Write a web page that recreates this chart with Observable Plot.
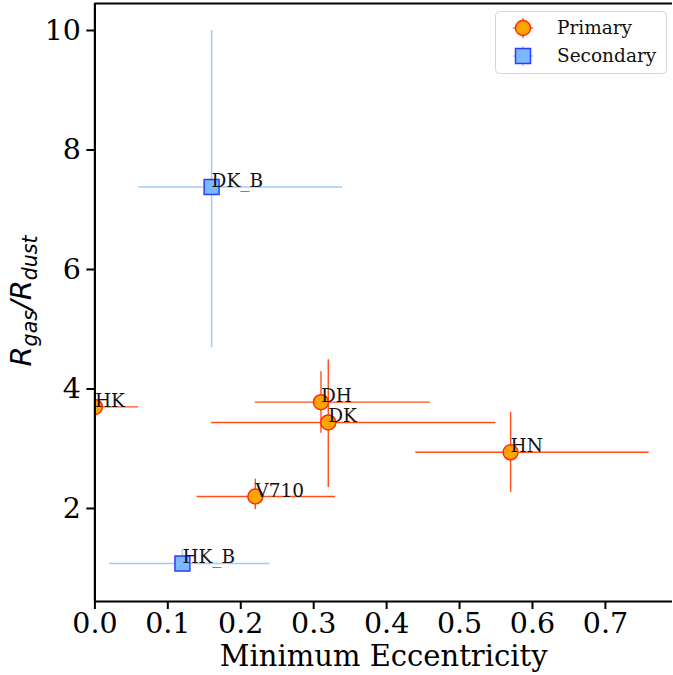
<!DOCTYPE html>
<html><head><meta charset="utf-8">
<script src="https://cdn.jsdelivr.net/npm/d3@7"></script>
<script src="https://cdn.jsdelivr.net/npm/@observablehq/plot@0.6"></script>
<style>body{margin:0;background:#fff;overflow:hidden} svg{display:block}</style>
</head><body><div id="chart"></div>
<script>
// Primary stars
const primaryNames = ["HK", "DH", "DK", "HN", "V710"];
const primaryEcc   = [0.00, 0.31, 0.32, 0.57, 0.22];
const primaryEccLo = [0.00, 0.22, 0.16, 0.44, 0.14];
const primaryEccHi = [0.06, 0.46, 0.55, 0.76, 0.33];
const primaryRatio   = [3.70, 3.78, 3.44, 2.94, 2.20];
const primaryRatioLo = [3.66, 3.26, 2.35, 2.27, 1.98];
const primaryRatioHi = [3.74, 4.29, 4.49, 3.61, 2.49];
// Secondary stars
const secondaryNames = ["DK_B", "HK_B"];
const secondaryEcc   = [0.16, 0.12];
const secondaryEccLo = [0.06, 0.02];
const secondaryEccHi = [0.34, 0.24];
const secondaryRatio   = [7.38, 1.08];
const secondaryRatioLo = [4.69, 0.95];
const secondaryRatioHi = [10.0, 1.31];
// Axes
const xTicks = [0.0, 0.1, 0.2, 0.3, 0.4, 0.5, 0.6, 0.7];
const yTicks = [2, 4, 6, 8, 10];
const xDomain = [0, 0.792];
const yDomain = [0.443, 10.452];
const xLabel = "Minimum Eccentricity";
const legendLabels = ["Primary", "Secondary"];

const build = (names, x, xlo, xhi, y, ylo, yhi) =>
  names.map((n, i) => ({name: n, x: x[i], xlo: xlo[i], xhi: xhi[i], y: y[i], ylo: ylo[i], yhi: yhi[i]}));
const primary = build(primaryNames, primaryEcc, primaryEccLo, primaryEccHi, primaryRatio, primaryRatioLo, primaryRatioHi);
const secondary = build(secondaryNames, secondaryEcc, secondaryEccLo, secondaryEccHi, secondaryRatio, secondaryRatioLo, secondaryRatioHi);

const serif = "DejaVu Serif";
const pErr = "#ff4f1a", pFill = "#ffa500", pEdge = "#ff2a10";
const sErr = "#a0cbfb", sFill = "#7ab8ff", sEdge = "#2a3cff";

const chart = Plot.plot({
  width: 673, height: 675,
  marginLeft: 94.4, marginRight: 1, marginTop: 3, marginBottom: 74,
  style: {fontFamily: serif, background: "white", color: "black"},
  x: {domain: xDomain},
  y: {domain: yDomain},
  marks: [
    Plot.ruleY(primary, {y: "y", x1: "xlo", x2: "xhi", stroke: pErr, strokeWidth: 1.4, clip: true}),
    Plot.ruleX(primary, {x: "x", y1: "ylo", y2: "yhi", stroke: pErr, strokeWidth: 1.4, clip: true}),
    Plot.dot(primary, {x: "x", y: "y", r: 7.5, fill: pFill, stroke: pEdge, strokeWidth: 1.5, clip: true}),
    Plot.ruleY(secondary, {y: "y", x1: "xlo", x2: "xhi", stroke: sErr, strokeWidth: 1.5, clip: true}),
    Plot.ruleX(secondary, {x: "x", y1: "ylo", y2: "yhi", stroke: sErr, strokeWidth: 1.5, clip: true}),
    Plot.dot(secondary, {x: "x", y: "y", symbol: "square", r: 8.4, fill: sFill, stroke: sEdge, strokeWidth: 1.5, clip: true}),
    Plot.text(primary.concat(secondary), {x: "x", y: "y", text: "name", textAnchor: "start", lineAnchor: "bottom", fontSize: 18.5, fontFamily: serif, fill: "#111"}),
    Plot.ruleX([xDomain[0]], {stroke: "black", strokeWidth: 2.2}),
    Plot.ruleY([yDomain[0]], {stroke: "black", strokeWidth: 2.2}),
    Plot.ruleY([yDomain[1]], {stroke: "black", strokeWidth: 2.2}),
    Plot.axisX({ticks: xTicks, tickFormat: d => d.toFixed(1), tickSize: 8, tickPadding: 3.5, strokeWidth: 2, fontSize: 28.5, fontFamily: serif, label: null}),
    Plot.axisY({ticks: yTicks, tickFormat: d => String(d), tickSize: 8, tickPadding: 6, strokeWidth: 2, fontSize: 28.5, fontFamily: serif, label: null}),
    Plot.text([xLabel], {frameAnchor: "bottom", dy: 64.5, fontSize: 29, fontFamily: serif, fill: "black"})
  ]
});
document.getElementById("chart").appendChild(chart);

// Y axis label with subscripts
const svg = d3.select(chart);
const yl = svg.append("text")
  .attr("transform", "translate(31,301) rotate(-90)")
  .attr("text-anchor", "middle")
  .style("font-family", "DejaVu Sans")
  .style("font-style", "italic")
  .style("font-size", "29px")
  .attr("fill", "black");
yl.append("tspan").text("R");
yl.append("tspan").attr("dy", 5.5).style("font-size", "20.5px").text("gas");
yl.append("tspan").attr("dy", -5.5).text("/R");
yl.append("tspan").attr("dy", 5.5).style("font-size", "20.5px").text("dust");

// Legend
const lg = svg.append("g").attr("text-anchor", "start");
lg.append("rect").attr("x", 495.5).attr("y", 11.5).attr("width", 171).attr("height", 62).attr("rx", 4)
  .attr("fill", "white").attr("fill-opacity", 0.8).attr("stroke", "#d6d6d6");
const entries = [
  {label: legendLabels[0], cy: 28, err: pErr, fill: pFill, edge: pEdge, sq: false},
  {label: legendLabels[1], cy: 56, err: sErr, fill: sFill, edge: sEdge, sq: true}
];
entries.forEach(e => {
  const cx = 523;
  lg.append("line").attr("x1", cx - 10).attr("x2", cx + 10).attr("y1", e.cy).attr("y2", e.cy).attr("stroke", e.err).attr("stroke-width", 1.4);
  lg.append("line").attr("x1", cx).attr("x2", cx).attr("y1", e.cy - 10).attr("y2", e.cy + 10).attr("stroke", e.err).attr("stroke-width", 1.4);
  if (e.sq) lg.append("rect").attr("x", cx - 7.5).attr("y", e.cy - 7.5).attr("width", 15).attr("height", 15).attr("fill", e.fill).attr("stroke", e.edge).attr("stroke-width", 1.5);
  else lg.append("circle").attr("cx", cx).attr("cy", e.cy).attr("r", 7.5).attr("fill", e.fill).attr("stroke", e.edge).attr("stroke-width", 1.5);
  lg.append("text").attr("x", 557).attr("y", e.cy + 6).attr("text-anchor", "start").style("font-family", serif).style("font-size", "18.5px").attr("fill", "#111").text(e.label);
});
</script></body></html>
